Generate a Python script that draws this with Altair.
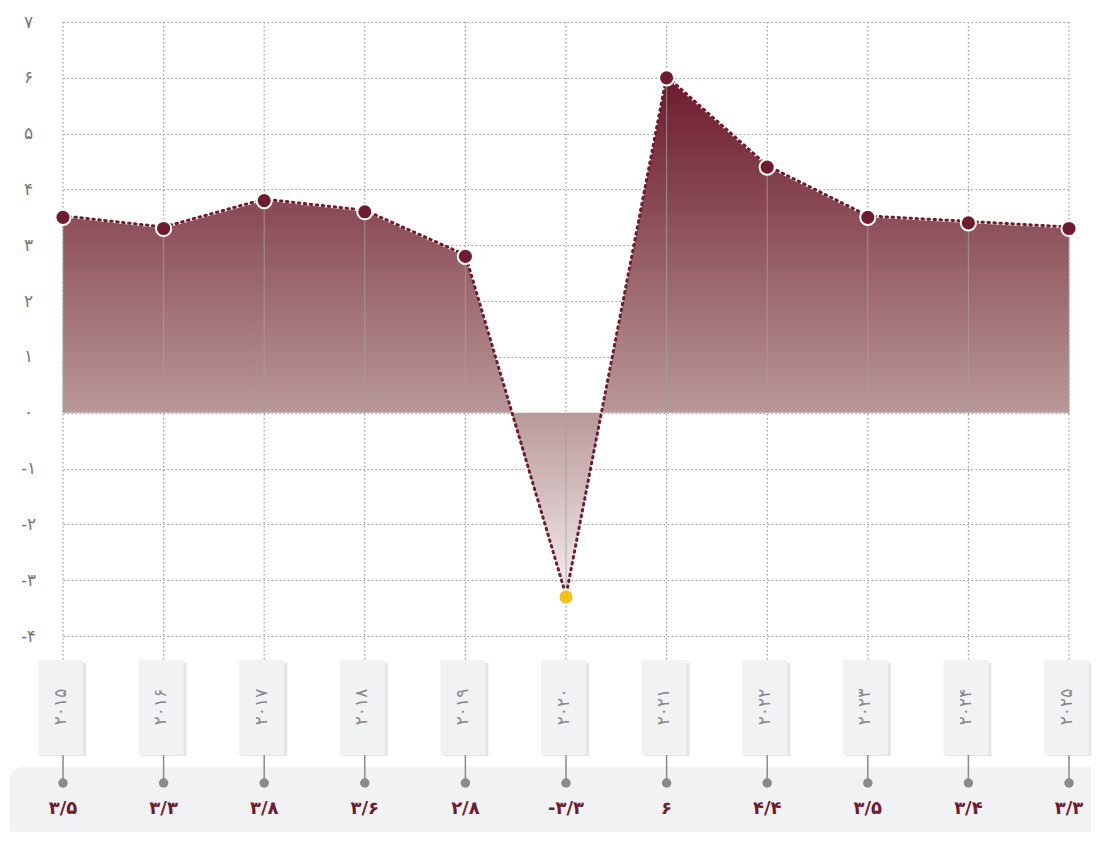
import altair as alt
import pandas as pd

years = [2015, 2016, 2017, 2018, 2019, 2020, 2021, 2022, 2023, 2024, 2025]
values = [3.5, 3.3, 3.8, 3.6, 2.8, -3.3, 6, 4.4, 3.5, 3.4, 3.3]
y_ticks = [-4, -3, -2, -1, 0, 1, 2, 3, 4, 5, 6, 7]

FA = str.maketrans("0123456789.", "۰۱۲۳۴۵۶۷۸۹/")


def fa(v):
    return ("%g" % v).translate(FA)


df = pd.DataFrame({
    "year": years,
    "value": values,
    "year_fa": [str(y).translate(FA) for y in years],
    "value_fa": [fa(v) for v in values],
})

expr = "''"
for t in reversed(y_ticks):
    expr = f"datum.value == {t} ? '{fa(t)}' : ({expr})"

FONT = "DejaVu Sans"
RED = "#6e1c2e"
GRID = "#9a9a9a"

xenc = alt.X("year:Q", scale=alt.Scale(domain=[2015, 2025], nice=False, zero=False), axis=None)
yscale = alt.Scale(domain=[-4, 7], nice=False, zero=False)

base = alt.Chart(df)

axis_layer = base.mark_point(opacity=0).encode(
    x=xenc,
    y=alt.Y("value:Q", scale=yscale,
            axis=alt.Axis(values=y_ticks, title=None, domain=False, ticks=False,
                          labelExpr=expr, labelAlign="center", labelPadding=35,
                          labelFontSize=17, labelColor="#777", labelFont=FONT,
                          grid=True, gridDash=[1.5, 2.5], gridColor=GRID,
                          gridWidth=1.2)),
)

vgrid = base.mark_rule(strokeDash=[1.5, 2.5], color=GRID, strokeWidth=1.2).encode(
    x=xenc, y=alt.value(0), y2=alt.value(638)
)

area = base.mark_area(
    color=alt.Gradient(
        gradient="linear",
        stops=[alt.GradientStop(color="#6c1a2c", offset=0),
               alt.GradientStop(color="#b89798", offset=0.64),
               alt.GradientStop(color="#f6f0f0", offset=1)],
        x1=1, x2=1, y1=0, y2=1),
).encode(x=xenc, y=alt.Y("value:Q", scale=yscale), y2=alt.datum(0))

drops = base.mark_rule(color="#a0a0a0", strokeWidth=1, opacity=0.8).encode(
    x=xenc, y=alt.Y("value:Q", scale=yscale), y2=alt.datum(0)
)

line = base.mark_line(color=RED, strokeDash=[1.5, 4.5], strokeCap="round",
                      strokeWidth=3, yOffset=-1.5).encode(
    x=xenc, y=alt.Y("value:Q", scale=yscale)
)

points = base.mark_point(filled=True, size=230, stroke="white", strokeWidth=2,
                         opacity=1, strokeOpacity=1).encode(
    x=xenc, y=alt.Y("value:Q", scale=yscale),
    fill=alt.condition("datum.value < 0", alt.value("#f6c015"), alt.value(RED)),
)

panel = alt.Chart(pd.DataFrame({"k": [0]})).mark_rect(
    color="#f1f2f4", cornerRadius=12).encode(
    x=alt.value(-53), x2=alt.value(1050), y=alt.value(745), y2=alt.value(818)
)

box_shadow = base.mark_rule(color="#dcdde0", strokeWidth=45, opacity=0.8,
                            xOffset=0.5, yOffset=2).encode(
    x=xenc, y=alt.value(639), y2=alt.value(734)
)
box = base.mark_rule(color="#f1f2f4", strokeWidth=45, xOffset=-2.5).encode(
    x=xenc, y=alt.value(638), y2=alt.value(733)
)
year_text = base.mark_text(angle=270, fontSize=17, color="#888", font=FONT,
                           align="center", baseline="middle", dx=0, xOffset=-2.5).encode(
    x=xenc, y=alt.value(685), text="year_fa:N"
)
connector = base.mark_rule(color="#8a8a8a", strokeWidth=1.5).encode(
    x=xenc, y=alt.value(733), y2=alt.value(761)
)
dot = base.mark_point(filled=True, size=90, color="#8a8a8a", opacity=1).encode(
    x=xenc, y=alt.value(761)
)
value_text = base.mark_text(fontSize=18, fontWeight="bold", color=RED, font=FONT,
                            align="center", baseline="middle").encode(
    x=xenc, y=alt.value(787), text="value_fa:N"
)

chart = alt.layer(
    axis_layer, vgrid, area, drops, line, points,
    panel, box_shadow, box, year_text, connector, dot, value_text,
).properties(
    width=1006, height=614,
    autosize=alt.AutoSizeParams(type="none"),
    padding={"left": 55, "top": 14, "right": 22, "bottom": 196},
).configure_view(strokeWidth=0)

chart.save("out.html", embed_options={"renderer": "svg", "actions": False})
